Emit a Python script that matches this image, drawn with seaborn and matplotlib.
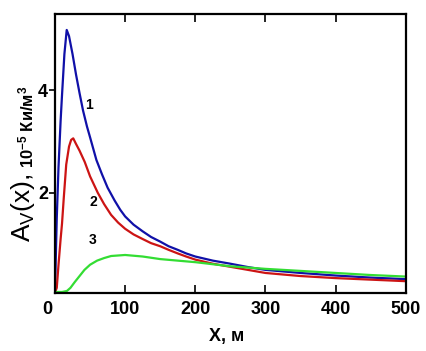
import numpy as np
import pandas as pd
import matplotlib
matplotlib.use("Agg")
import matplotlib.pyplot as plt
from matplotlib.transforms import ScaledTranslation
import seaborn as sns

# ---- data ----
x1 = [0, 2.5, 5, 8, 10, 13.4, 16.7, 20, 25, 30, 35, 40, 45.6, 50, 59, 67, 75, 85, 93,
      100, 112, 125, 137, 150, 162, 175, 187, 200, 225, 250, 275, 300, 350, 400, 450, 500]
y1 = [0.1, 1.5, 2.5, 3.4, 3.9, 4.7, 5.17, 5.05, 4.7, 4.3, 3.94, 3.6, 3.29, 3.08, 2.64,
      2.36, 2.1, 1.85, 1.67, 1.54, 1.38, 1.25, 1.14, 1.05, 0.96, 0.89, 0.82, 0.76, 0.68,
      0.62, 0.555, 0.50, 0.44, 0.39, 0.35, 0.32]

x2 = [0, 2.5, 5, 8, 10, 12.5, 16, 20, 23, 26, 30, 35, 42.4, 50, 61, 70, 80, 90, 100, 112,
      125, 137, 150, 162, 175, 187, 200, 225, 250, 275, 300, 350, 400, 450, 500]
y2 = [0.06, 0.15, 0.6, 1.1, 1.4, 1.9, 2.55, 2.9, 3.03, 3.06, 2.95, 2.82, 2.6, 2.32, 2.0,
      1.78, 1.57, 1.42, 1.30, 1.19, 1.10, 1.02, 0.96, 0.89, 0.82, 0.76, 0.70, 0.62, 0.56,
      0.50, 0.44, 0.38, 0.34, 0.31, 0.28]

x3 = [0, 10, 17, 22, 28, 35, 42, 50, 60, 70, 80, 100, 125, 150, 200, 250, 300, 350,
      400, 450, 500]
y3 = [0.07, 0.07, 0.09, 0.15, 0.26, 0.38, 0.5, 0.6, 0.68, 0.73, 0.77, 0.79, 0.76, 0.71,
      0.65, 0.57, 0.52, 0.48, 0.44, 0.40, 0.37]

series_names = ["1", "2", "3"]
series_colors = ["#1010A8", "#CC1414", "#33DD33"]
label_pos = [(48, 3.7), (54.6, 1.83), (54, 1.09)]

x_ticks = [0, 100, 200, 300, 400, 500]
y_ticks = [2, 4]

df = pd.concat([
    pd.DataFrame({"x": x1, "y": y1, "curve": "1"}),
    pd.DataFrame({"x": x2, "y": y2, "curve": "2"}),
    pd.DataFrame({"x": x3, "y": y3, "curve": "3"}),
])

sns.set_style("white")
plt.rcParams["font.family"] = ["Liberation Sans", "DejaVu Sans"]
plt.rcParams["mathtext.fontset"] = "custom"
plt.rcParams["mathtext.rm"] = "Liberation Sans"
plt.rcParams["mathtext.it"] = "Liberation Sans:italic"
plt.rcParams["mathtext.bf"] = "Liberation Sans:bold"
plt.rcParams["text.color"] = "black"
plt.rcParams["axes.labelcolor"] = "black"
plt.rcParams["xtick.color"] = "black"
plt.rcParams["ytick.color"] = "black"

fig = plt.figure(figsize=(4.26, 3.51), dpi=100)
ax = fig.add_axes([55 / 426, 1 - 293 / 351, (405.7 - 55) / 426, (293 - 14) / 351])

sns.lineplot(data=df, x="x", y="y", hue="curve", palette=dict(zip(series_names, series_colors)),
             estimator=None, sort=False, linewidth=1.6, legend=False, ax=ax)

ax.set_xlim(0, 500)
ax.set_ylim(0.05, 5.48)
ax.set_xticks(x_ticks)
ax.set_xticklabels([str(t) for t in x_ticks], fontsize=13, fontweight="bold")
ax.set_yticks(y_ticks)
ax.set_yticklabels([str(t) for t in y_ticks], fontsize=13, fontweight="bold")
ax.tick_params(axis="x", direction="in", length=6, width=1.2, top=True, bottom=True, pad=6)
ax.tick_params(axis="y", direction="out", length=4, width=1.2, left=True, right=False, pad=1)
for lab in ax.get_xticklabels():
    if lab.get_text() == "0":
        lab.set_transform(lab.get_transform() + ScaledTranslation(-8 / 100, 0, fig.dpi_scale_trans))
ax.xaxis.get_major_ticks()[0].tick1line.set_visible(False)
ax.xaxis.get_major_ticks()[0].tick2line.set_visible(False)

for s in ax.spines.values():
    s.set_linewidth(1.6)
    s.set_color("black")
    s.set_visible(True)

ax.set_xlabel("")
ax.set_ylabel("")

for name, (px, py) in zip(series_names, label_pos):
    ax.text(px, py, name, fontsize=10, fontweight="bold", ha="center", va="center")

fig.text(227 / 426, 1 - 337 / 351, "X, м", fontsize=13, fontweight="bold", ha="center", va="center")
fig.text(30 / 426, 1 - 242 / 351, r"$\mathrm{A}_{\mathrm{V}}\mathrm{(x),}$", fontsize=19, rotation=90,
         rotation_mode="anchor", ha="left", va="baseline")
fig.text(33 / 426, 1 - 168 / 351, r"10$^{\mathbf{-5}}$ Ки/м$^{\mathbf{3}}$", fontsize=12,
         fontweight="bold", rotation=90, rotation_mode="anchor", ha="left", va="baseline")

fig.savefig("out.png", dpi=100)
